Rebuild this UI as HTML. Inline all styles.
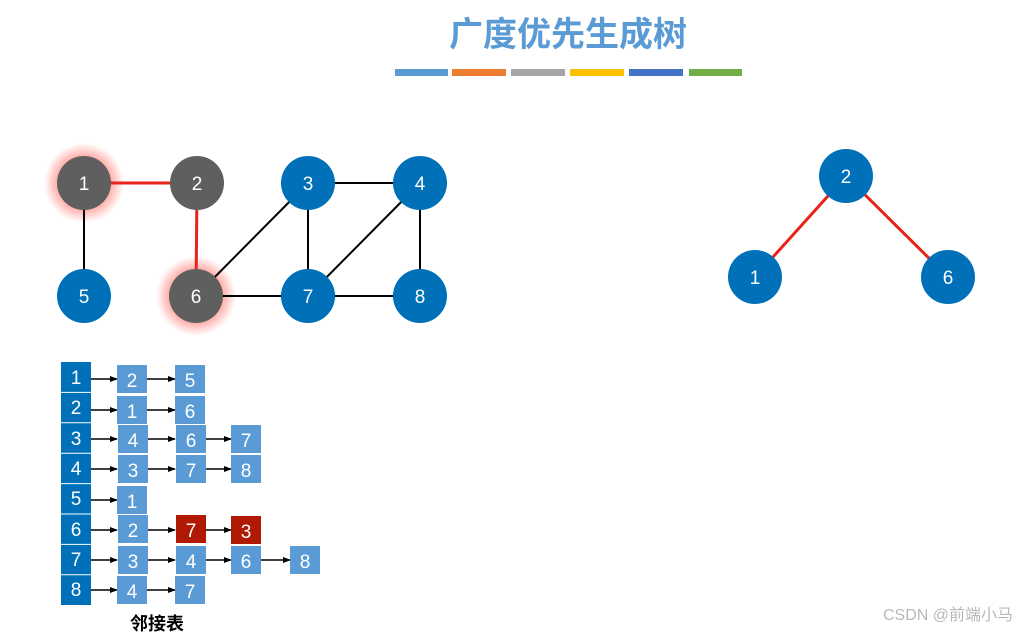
<!DOCTYPE html>
<html><head><meta charset="utf-8"><style>
html,body{margin:0;padding:0;background:#fff;}
svg{display:block;}
text{font-family:"Liberation Sans","Noto Sans CJK SC",sans-serif;}
</style></head><body>
<svg width="1019" height="632" viewBox="0 0 1019 632" xmlns="http://www.w3.org/2000/svg">
<defs>
<radialGradient id="glow"><stop offset="0.55" stop-color="#ff3b30" stop-opacity="0.55"/><stop offset="1" stop-color="#ff3b30" stop-opacity="0"/></radialGradient>
<marker id="ar" markerWidth="8" markerHeight="8" refX="7" refY="4" orient="auto" markerUnits="userSpaceOnUse"><path d="M0,1 L8,4 L0,7 z" fill="#000"/></marker>
</defs>
<text x="568" y="46" text-anchor="middle" font-size="34" font-weight="bold" fill="#5b9bd5">广度优先生成树</text>
<g>
<rect x="395" y="69" width="53" height="7" fill="#5b9bd5"/>
<rect x="452" y="69" width="54" height="7" fill="#ed7d31"/>
<rect x="511" y="69" width="54" height="7" fill="#a5a5a5"/>
<rect x="570" y="69" width="54" height="7" fill="#ffc000"/>
<rect x="629" y="69" width="54" height="7" fill="#4472c4"/>
<rect x="689" y="69" width="53" height="7" fill="#70ad47"/>
</g>
<!-- glows -->
<circle cx="84" cy="183" r="40" fill="url(#glow)"/>
<circle cx="196" cy="296" r="40" fill="url(#glow)"/>
<!-- edges -->
<g stroke="#000" stroke-width="2">
<line x1="84" y1="183" x2="84" y2="296"/>
<line x1="196" y1="296" x2="308" y2="183"/>
<line x1="196" y1="296" x2="308" y2="296"/>
<line x1="308" y1="183" x2="420" y2="183"/>
<line x1="308" y1="183" x2="308" y2="296"/>
<line x1="420" y1="183" x2="308" y2="296"/>
<line x1="420" y1="183" x2="420" y2="296"/>
<line x1="308" y1="296" x2="420" y2="296"/>
</g>
<g stroke="#e8231a" stroke-width="3">
<line x1="84" y1="183" x2="197" y2="183"/>
<line x1="197" y1="183" x2="196" y2="296"/>
<line x1="846" y1="176" x2="755" y2="277"/>
<line x1="846" y1="176" x2="948" y2="277"/>
</g>
<g font-size="19" fill="#fff" text-anchor="middle">
<circle cx="84" cy="183" r="27" fill="#5f5f5f"/><text x="84" y="190">1</text>
<circle cx="197" cy="183" r="27" fill="#5f5f5f"/><text x="197" y="190">2</text>
<circle cx="308" cy="183" r="27" fill="#0070b8"/><text x="308" y="190">3</text>
<circle cx="420" cy="183" r="27" fill="#0070b8"/><text x="420" y="190">4</text>
<circle cx="84" cy="296" r="27" fill="#0070b8"/><text x="84" y="303">5</text>
<circle cx="196" cy="296" r="27" fill="#5f5f5f"/><text x="196" y="303">6</text>
<circle cx="308" cy="296" r="27" fill="#0070b8"/><text x="308" y="303">7</text>
<circle cx="420" cy="296" r="27" fill="#0070b8"/><text x="420" y="303">8</text>
<circle cx="846" cy="176" r="27" fill="#0070b8"/><text x="846" y="183">2</text>
<circle cx="755" cy="277" r="27" fill="#0070b8"/><text x="755" y="284">1</text>
<circle cx="948" cy="277" r="27" fill="#0070b8"/><text x="948" y="284">6</text>
</g>
<!-- adjacency -->
<g font-size="19" fill="#fff" text-anchor="middle">
<rect x="61" y="362" width="30" height="243" fill="#0070b8"/>
<g stroke="#fff" stroke-width="1">
<line x1="61" y1="392.4" x2="91" y2="392.4"/><line x1="61" y1="422.8" x2="91" y2="422.8"/>
<line x1="61" y1="453.2" x2="91" y2="453.2"/><line x1="61" y1="483.6" x2="91" y2="483.6"/>
<line x1="61" y1="514" x2="91" y2="514"/><line x1="61" y1="544.4" x2="91" y2="544.4"/>
<line x1="61" y1="574.8" x2="91" y2="574.8"/>
</g>
<text x="76" y="384">1</text><text x="76" y="414">2</text><text x="76" y="445">3</text><text x="76" y="475">4</text>
<text x="76" y="505">5</text><text x="76" y="536">6</text><text x="76" y="566">7</text><text x="76" y="596">8</text>
</g>
<g stroke="#000" stroke-width="1.5" marker-end="url(#ar)">
<line x1="91" y1="379" x2="117" y2="379"/><line x1="147" y1="379" x2="175" y2="379"/>
<line x1="91" y1="410" x2="117" y2="410"/><line x1="147" y1="410" x2="175" y2="410"/>
<line x1="91" y1="439" x2="117" y2="439"/><line x1="147" y1="439" x2="175" y2="439"/><line x1="205" y1="439" x2="231" y2="439"/>
<line x1="91" y1="469" x2="117" y2="469"/><line x1="147" y1="469" x2="175" y2="469"/><line x1="205" y1="469" x2="231" y2="469"/>
<line x1="91" y1="500" x2="117" y2="500"/>
<line x1="91" y1="530" x2="117" y2="530"/><line x1="147" y1="530" x2="175" y2="530"/><line x1="205" y1="530" x2="231" y2="530"/>
<line x1="91" y1="560" x2="117" y2="560"/><line x1="147" y1="560" x2="175" y2="560"/><line x1="205" y1="560" x2="231" y2="560"/><line x1="261" y1="560" x2="290" y2="560"/>
<line x1="91" y1="590" x2="117" y2="590"/><line x1="147" y1="590" x2="175" y2="590"/>
</g>
<g font-size="19" fill="#fff" text-anchor="middle">
<rect x="117" y="365" width="30" height="28" fill="#5b9bd5"/><text x="132" y="387">2</text>
<rect x="175" y="365" width="30" height="28" fill="#5b9bd5"/><text x="190" y="387">5</text>
<rect x="117" y="396" width="30" height="28" fill="#5b9bd5"/><text x="132" y="418">1</text>
<rect x="175" y="396" width="30" height="28" fill="#5b9bd5"/><text x="190" y="418">6</text>
<rect x="118" y="425" width="30" height="28" fill="#5b9bd5"/><text x="133" y="447">4</text>
<rect x="176" y="425" width="30" height="28" fill="#5b9bd5"/><text x="191" y="447">6</text>
<rect x="231" y="425" width="30" height="28" fill="#5b9bd5"/><text x="246" y="447">7</text>
<rect x="118" y="455" width="30" height="28" fill="#5b9bd5"/><text x="133" y="477">3</text>
<rect x="176" y="455" width="30" height="28" fill="#5b9bd5"/><text x="191" y="477">7</text>
<rect x="231" y="455" width="30" height="28" fill="#5b9bd5"/><text x="246" y="477">8</text>
<rect x="117" y="486" width="30" height="28" fill="#5b9bd5"/><text x="132" y="508">1</text>
<rect x="118" y="515" width="30" height="28" fill="#5b9bd5"/><text x="133" y="537">2</text>
<rect x="176" y="515" width="30" height="28" fill="#b01a04"/><text x="191" y="537">7</text>
<rect x="231" y="516" width="30" height="28" fill="#b01a04"/><text x="246" y="538">3</text>
<rect x="118" y="546" width="30" height="28" fill="#5b9bd5"/><text x="133" y="568">3</text>
<rect x="176" y="546" width="30" height="28" fill="#5b9bd5"/><text x="191" y="568">4</text>
<rect x="231" y="546" width="30" height="28" fill="#5b9bd5"/><text x="246" y="568">6</text>
<rect x="290" y="546" width="30" height="28" fill="#5b9bd5"/><text x="305" y="568">8</text>
<rect x="117" y="576" width="30" height="28" fill="#5b9bd5"/><text x="132" y="598">4</text>
<rect x="175" y="576" width="30" height="28" fill="#5b9bd5"/><text x="190" y="598">7</text>
</g>
<text x="157" y="630" text-anchor="middle" font-size="18" font-weight="bold" fill="#000">邻接表</text>
<text x="1013" y="620" text-anchor="end" font-size="16" fill="#b8b8b8">CSDN @前端小马</text>
</svg>
</body></html>
